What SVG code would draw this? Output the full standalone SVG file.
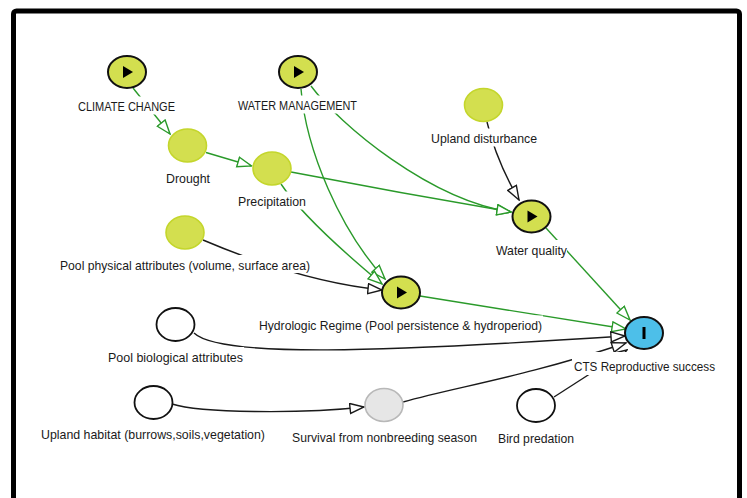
<svg xmlns="http://www.w3.org/2000/svg" width="747" height="498" viewBox="0 0 747 498">
<defs>
<style>
.frame{fill:#fff;stroke:#000;stroke-width:5}
.ge{fill:none;stroke:#2a9a2a;stroke-width:1.4;marker-end:url(#ag)}
.be{fill:none;stroke:#1a1a1a;stroke-width:1.4;marker-end:url(#ab)}
.key{fill:#d3df4f;stroke:#111;stroke-width:2}
.lite{fill:#d3df4f;stroke:#c4d62c;stroke-width:1.6}
.white{fill:#fff;stroke:#111;stroke-width:1.8}
.gray{fill:#e6e6e6;stroke:#b8b8b8;stroke-width:1.6}
.cts{fill:#4dbfe9;stroke:#111;stroke-width:2}
.icon{fill:#000}
.bg{fill:#fff}
text{font-family:"Liberation Sans",Arial,sans-serif;font-size:13px;fill:#1a1a1a}
</style>
<marker id="ag" viewBox="-1 -1 16 12" refX="14" refY="5" markerWidth="16" markerHeight="12" markerUnits="userSpaceOnUse" orient="auto">
<path d="M0,0 L14,5 L0,10 Z" fill="#fff" stroke="#2a9a2a" stroke-width="1.4"/>
</marker>
<marker id="ab" viewBox="-1 -1 16 12" refX="14" refY="5" markerWidth="16" markerHeight="12" markerUnits="userSpaceOnUse" orient="auto">
<path d="M0,0 L14,5 L0,10 Z" fill="#fff" stroke="#1a1a1a" stroke-width="1.4"/>
</marker>
</defs>
<rect class="frame" x="13.5" y="11" width="726" height="520" rx="3"/>
<g id="connectors">
<path class="ge" d="M133,88 L170,134"/>
<path class="ge" d="M206,152.5 L251.5,166"/>
<path class="ge" d="M291,172 Q400,193 511,212"/>
<path class="ge" d="M311,86 C340,125 430,200 511,212"/>
<path class="ge" d="M301,89 C306,150 340,230 385,279"/>
<path class="ge" d="M281,184 Q305,220 382,284"/>
<path class="be" d="M203,240 Q302,282 382,290"/>
<path class="be" d="M487,122 Q496,160 519,200"/>
<path class="ge" d="M546,228 L630,320"/>
<path class="ge" d="M420,296 L626,329"/>
<path class="be" d="M194,333 C220,358 380,352 625,336"/>
<path class="be" d="M403,402 C460,386 520,378 626,343"/>
<path class="be" d="M554,397 L627,350"/>
<path class="be" d="M172,404 C200,413 300,414 364,407"/>
</g>
<g id="n-climate">
<ellipse class="key" cx="127" cy="72" rx="19" ry="16"/>
<polygon class="icon" points="123,66 133,72 123,78"/>
<rect class="bg" x="77" y="96.5" width="99" height="18"/>
<text x="78" y="111" textLength="97" lengthAdjust="spacingAndGlyphs">CLIMATE CHANGE</text>
</g>
<g id="n-water-mgmt">
<ellipse class="key" cx="298" cy="72" rx="19" ry="16"/>
<polygon class="icon" points="294,66 304,72 294,78"/>
<rect class="bg" x="237" y="95.5" width="121" height="18"/>
<text x="238" y="110" textLength="119" lengthAdjust="spacingAndGlyphs">WATER MANAGEMENT</text>
</g>
<g id="n-drought">
<ellipse class="lite" cx="187.5" cy="145.5" rx="19" ry="16.5"/>
<rect class="bg" x="165" y="168.5" width="46" height="18"/>
<text x="166" y="183" textLength="44" lengthAdjust="spacingAndGlyphs">Drought</text>
</g>
<g id="n-precip">
<ellipse class="lite" cx="272" cy="168.5" rx="19" ry="16.5"/>
<rect class="bg" x="237" y="191.5" width="70" height="18"/>
<text x="238" y="206" textLength="68" lengthAdjust="spacingAndGlyphs">Precipitation</text>
</g>
<g id="n-pool-phys">
<ellipse class="lite" cx="185" cy="232.5" rx="19" ry="16.5"/>
<rect class="bg" x="59" y="255" width="252" height="18"/>
<text x="60" y="269.5" textLength="250" lengthAdjust="spacingAndGlyphs">Pool physical attributes (volume, surface area)</text>
</g>
<g id="n-upland-dist">
<ellipse class="lite" cx="483.5" cy="105" rx="19" ry="16.5"/>
<rect class="bg" x="430" y="128.5" width="108" height="18"/>
<text x="431" y="143" textLength="106" lengthAdjust="spacingAndGlyphs">Upland disturbance</text>
</g>
<g id="n-water-quality">
<ellipse class="key" cx="531.5" cy="216.5" rx="19" ry="16"/>
<polygon class="icon" points="527.5,210.5 537.5,216.5 527.5,222.5"/>
<rect class="bg" x="495" y="240" width="72" height="18"/>
<text x="496" y="254.5" textLength="71" lengthAdjust="spacingAndGlyphs">Water quality</text>
</g>
<g id="n-hydro">
<ellipse class="key" cx="401" cy="292.5" rx="19" ry="16"/>
<polygon class="icon" points="397,286.5 407,292.5 397,298.5"/>
<rect class="bg" x="258" y="315.5" width="285" height="18"/>
<text x="259" y="330" textLength="283" lengthAdjust="spacingAndGlyphs">Hydrologic Regime (Pool persistence &amp; hydroperiod)</text>
</g>
<g id="n-pool-bio">
<ellipse class="white" cx="175.5" cy="324.5" rx="19" ry="16.5"/>
<rect class="bg" x="107" y="347" width="137" height="18"/>
<text x="108" y="361.5" textLength="135" lengthAdjust="spacingAndGlyphs">Pool biological attributes</text>
</g>
<g id="n-upland-habitat">
<ellipse class="white" cx="153.5" cy="402.5" rx="19" ry="16.5"/>
<rect class="bg" x="40" y="424" width="226" height="18"/>
<text x="41" y="438.5" textLength="224" lengthAdjust="spacingAndGlyphs">Upland habitat (burrows,soils,vegetation)</text>
</g>
<g id="n-survival">
<ellipse class="gray" cx="384" cy="405" rx="19" ry="16.5"/>
<rect class="bg" x="291" y="427" width="187" height="18"/>
<text x="292" y="441.5" textLength="185" lengthAdjust="spacingAndGlyphs">Survival from nonbreeding season</text>
</g>
<g id="n-bird">
<ellipse class="white" cx="536" cy="405.5" rx="19" ry="16.5"/>
<rect class="bg" x="497" y="428" width="78" height="18"/>
<text x="498" y="442.5" textLength="76" lengthAdjust="spacingAndGlyphs">Bird predation</text>
</g>
<g id="n-cts">
<rect class="bg" x="572" y="352" width="146" height="23"/>
<ellipse class="cts" cx="644" cy="333" rx="19" ry="16"/>
<rect class="icon" x="642.5" y="327" width="3" height="12"/>
<text x="574" y="370.5" textLength="141" lengthAdjust="spacingAndGlyphs">CTS Reproductive success</text>
</g>
</svg>
